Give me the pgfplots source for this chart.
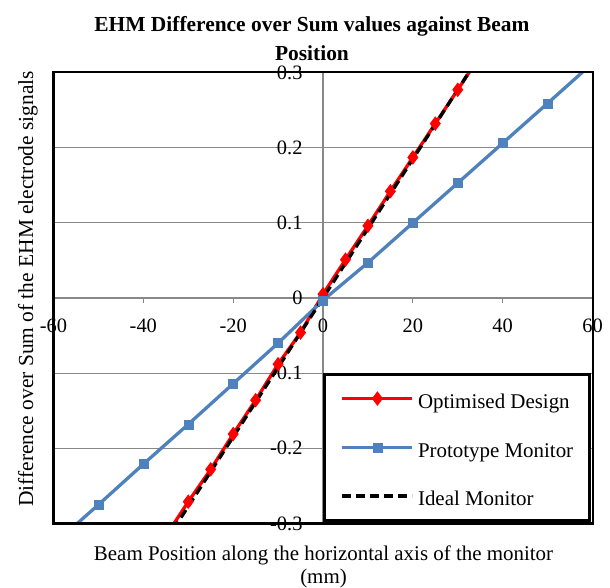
\documentclass[border=0pt]{standalone}
\usepackage{fontspec}
\setmainfont{Liberation Serif}
\usepackage{pgfplots}
\pgfplotsset{compat=1.18}
\definecolor{protoblue}{HTML}{4F81BD}
\definecolor{gridgray}{HTML}{888888}
\begin{document}
\begin{tikzpicture}
\useasboundingbox (-53.5bp,-64.5bp) rectangle (556.5bp,523.5bp);
\begin{axis}[
  scale only axis, width=539bp, height=451bp,
  xmin=-60, xmax=60, ymin=-0.3, ymax=0.3,
  axis lines=middle,
  axis line style={-, draw=gridgray, line width=1.3bp},
  hide obscured x ticks=false, hide obscured y ticks=false,
  xtick={-60,-40,-20,0,20,40,60}, xticklabels={-60,-40,-20,0,20,40,60},
  ytick={-0.3,-0.2,-0.1,0,0.1,0.2,0.3}, yticklabels={-0.3,-0.2,-0.1,0,0.1,0.2,0.3},
  ymajorgrids, grid style={gridgray, line width=1.3bp},
  tick align=outside, major tick length=5bp, tick style={gridgray, line width=1.3bp},
  tick label style={font=\fontsize{20.5}{24}\selectfont},
  xticklabel style={anchor=north, yshift=-12bp},
  yticklabel style={anchor=east, xshift=-12bp},
  legend style={at={(rel axis cs:1,0)}, anchor=south east, xshift=-1.65bp, yshift=1.65bp,
    draw=black, line width=3.3bp, fill=white, inner xsep=16bp, inner ysep=13bp,
    row sep=26.2bp, font=\fontsize{21}{25}\selectfont, nodes={inner sep=0pt},
    /tikz/every even column/.append style={text height=21bp, text depth=5bp}},
  legend cell align=left,
  legend image code/.code={
    \path[draw=none, fill=none] (0bp,-8bp) rectangle (75.6bp,8bp);
    \draw[#1, mark indices={2}] plot coordinates {(0bp,0bp) (35bp,0bp) (70bp,0bp)};
  },
]
\addplot[color=red, line width=3.3bp, mark=diamond*, mark size=6.5bp,
  mark options={solid, fill=red, line width=1bp}, mark indices={1,...,13}]
  coordinates {(-35,-0.3167) (-30,-0.271) (-25,-0.228) (-20,-0.181) (-15,-0.136) (-10,-0.088)
  (-5,-0.046) (0,0.005) (5,0.051) (10,0.096) (15,0.142) (20,0.187) (25,0.232) (30,0.277) (35,0.3227)};
\addlegendentry{Optimised Design}
\addplot[color=protoblue, line width=3.3bp, mark=square*, mark size=4.5bp,
  mark options={solid, fill=protoblue, line width=0.5bp}, mark indices={1,...,11}]
  coordinates {(-60,-0.328) (-50,-0.275) (-40,-0.221) (-30,-0.168) (-20,-0.114) (-10,-0.060)
  (0,-0.003) (10,0.047) (20,0.100) (30,0.153) (40,0.206) (50,0.259) (60,0.3124)};
\addlegendentry{Prototype Monitor}
\addplot[color=black, line width=3.3bp, dash pattern=on 9bp off 5bp]
  coordinates {(-35,-0.3234) (35,0.3234)};
\addlegendentry{Ideal Monitor}
\end{axis}
\draw[black, line width=2bp] (0,0) rectangle (539bp,451bp);
\node[font=\fontsize{21.5}{26}\selectfont\bfseries, anchor=base] at (258.5bp,491.8bp) {EHM Difference over Sum values against Beam};
\node[font=\fontsize{21.5}{26}\selectfont\bfseries, anchor=base] at (258.5bp,463.3bp) {Position};
\node[font=\fontsize{21}{25}\selectfont, anchor=base] at (270bp,-36.5bp) {Beam Position along the horizontal axis of the monitor};
\node[font=\fontsize{21}{25}\selectfont, anchor=base] at (270bp,-59.5bp) {(mm)};
\node[font=\fontsize{21.5}{25}\selectfont, rotate=90, anchor=base] at (-20.5bp,234.5bp) {Difference over Sum of the EHM electrode signals};
\end{tikzpicture}
\end{document}
